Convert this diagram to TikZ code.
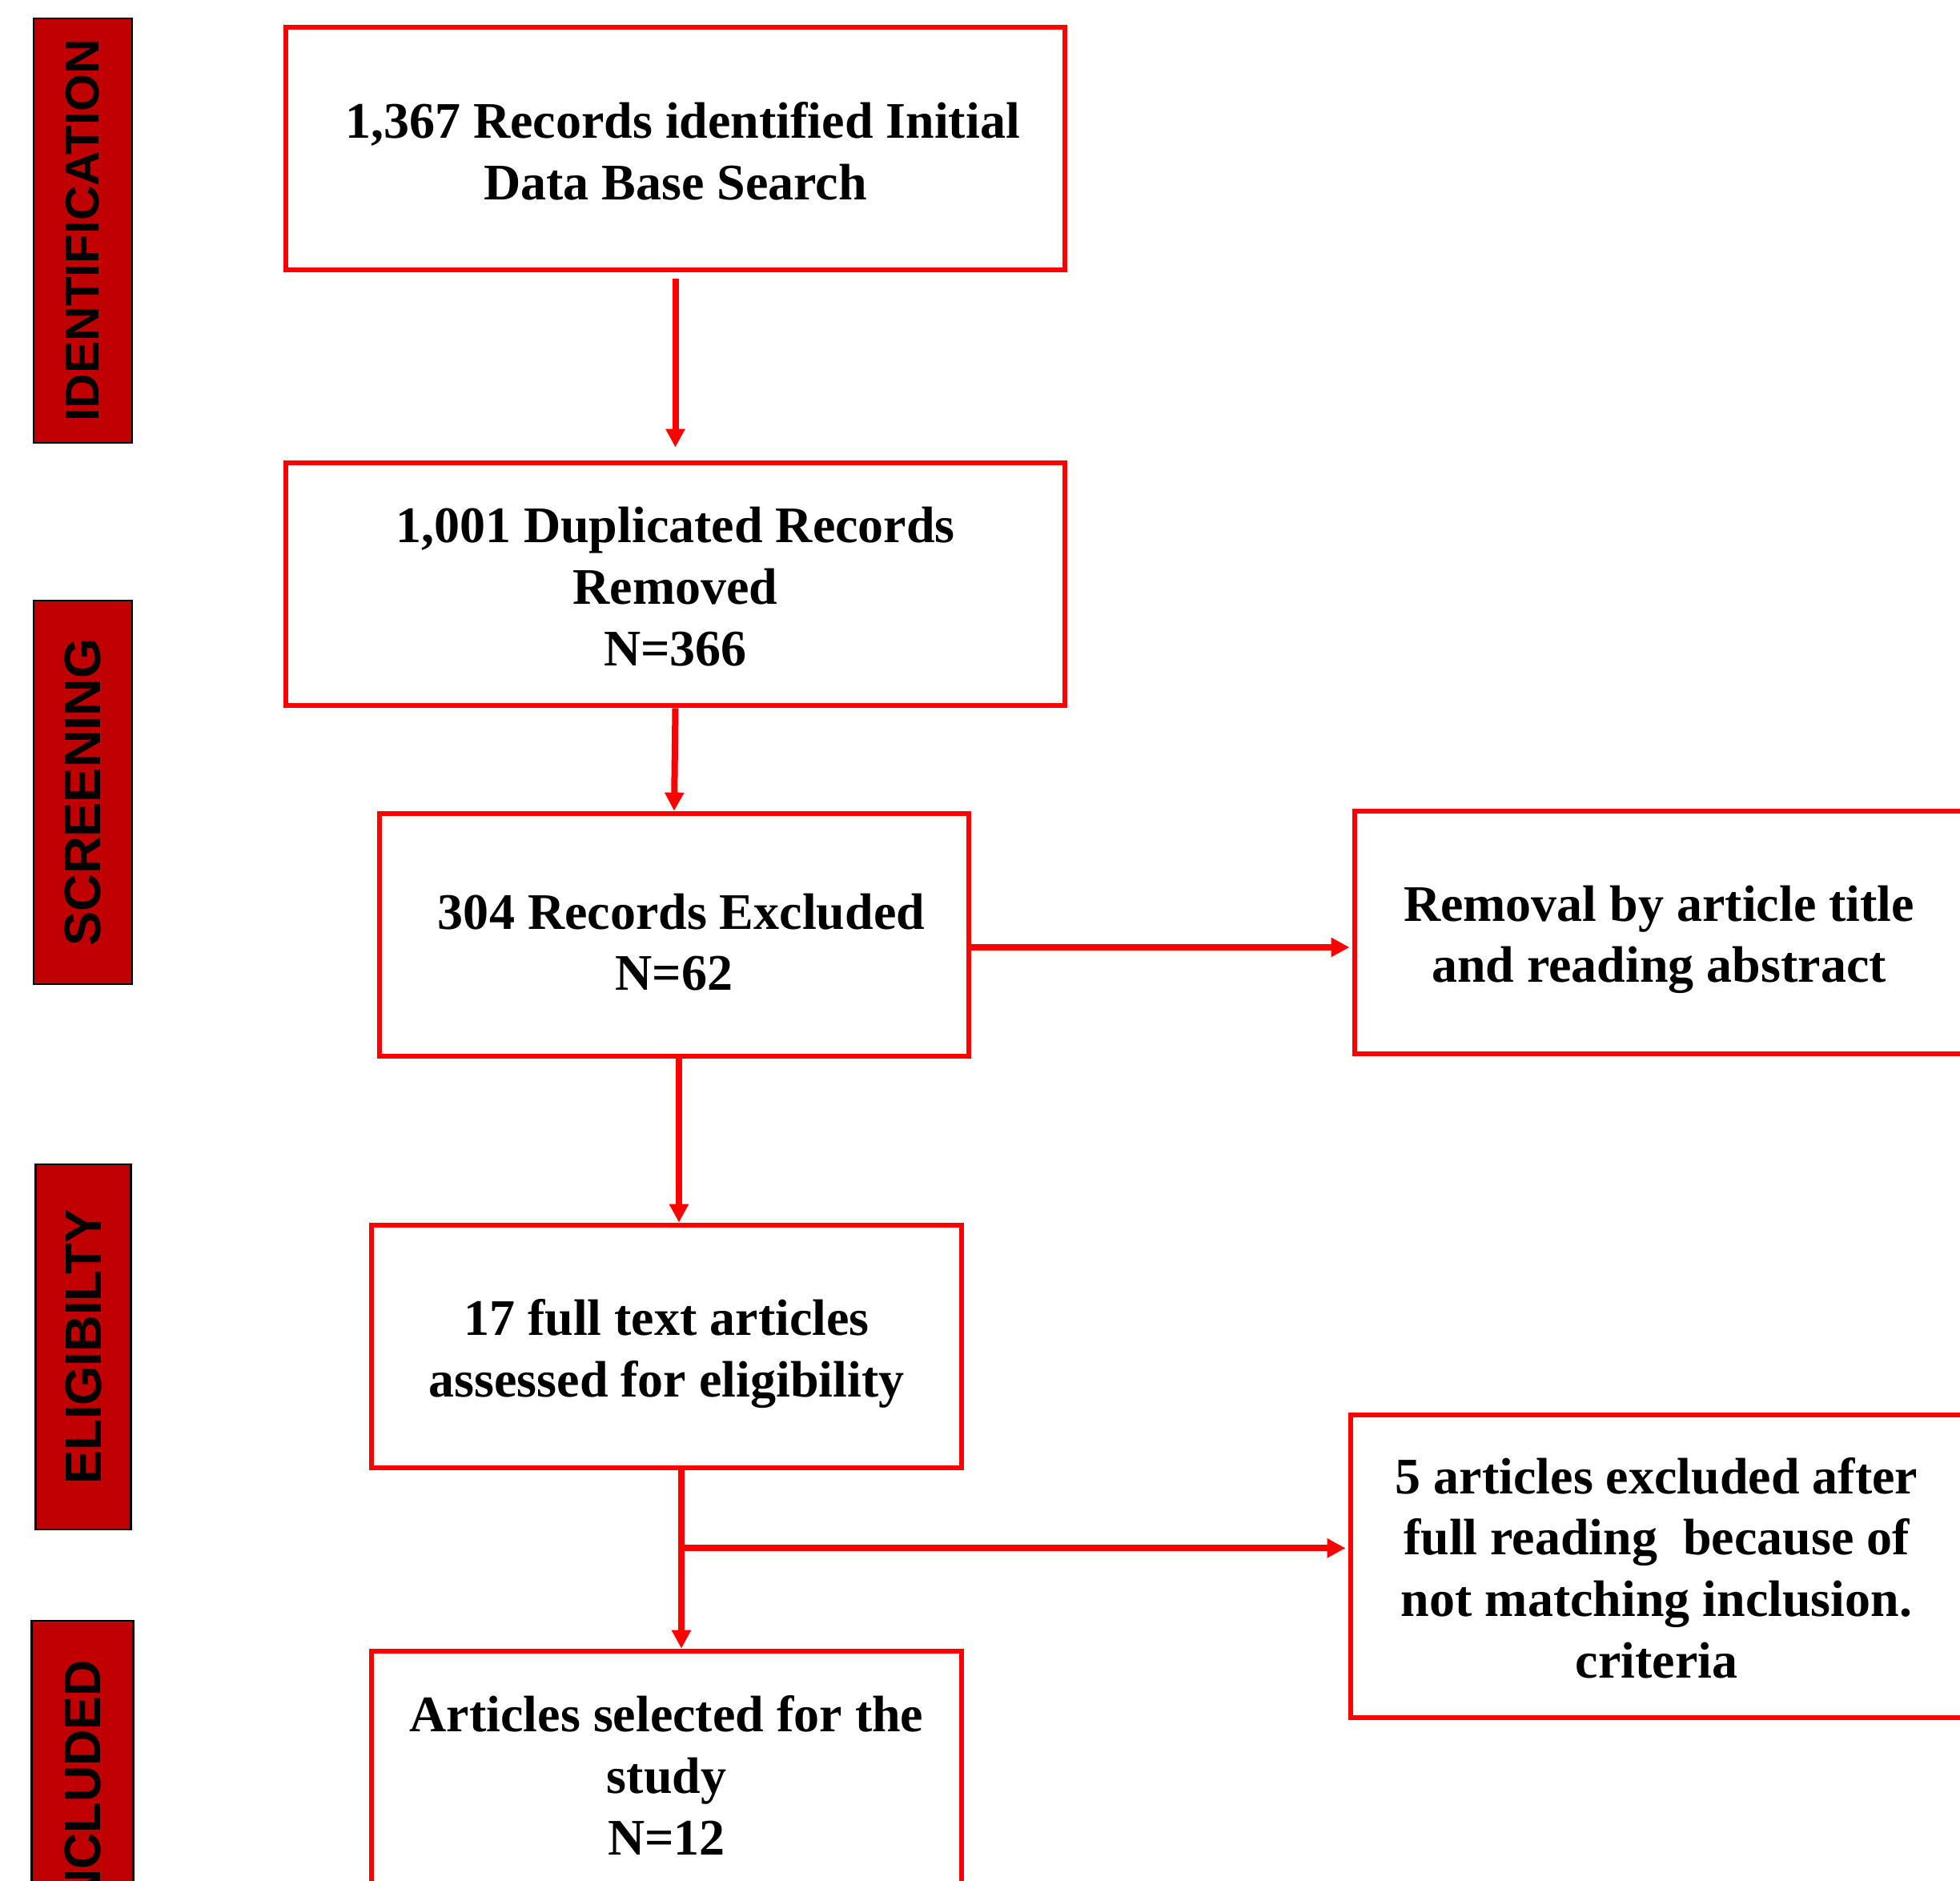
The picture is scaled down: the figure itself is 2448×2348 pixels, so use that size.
\documentclass[tikz,border=0pt]{standalone}
\usepackage{fontspec}
\usepackage{graphicx}
\setmainfont{Liberation Serif}
\setsansfont{Liberation Sans}
\usetikzlibrary{arrows.meta}
\definecolor{barred}{RGB}{192,0,0}
\definecolor{boxred}{RGB}{255,0,0}
\begin{document}
\begin{tikzpicture}[x=0.01cm,y=-0.01cm,
 box/.style={draw=boxred, line width=0.065cm, inner sep=0pt},
 boxtext/.style={align=center, inner sep=0pt,
   font=\fontsize{18.2pt}{21.8pt}\selectfont\bfseries},
 phase/.style={draw=black, line width=0.025cm, fill=barred, rotate=90, inner sep=0pt,
   font=\fontsize{18.2pt}{20pt}\selectfont\sffamily\bfseries, minimum height=1.23cm},
 arr/.style={draw=boxred, line width=0.08cm, -{Triangle[length=0.23cm,width=0.23cm]}}]
\clip (0,0) rectangle (2448,2348);
\fill[white] (0,0) rectangle (2448,2348);

% phase bars
\node[phase, minimum width=5.30cm, font=\fontsize{16.8pt}{20pt}\selectfont\sffamily\bfseries]
  (pid) at (103.5,288) {\scalebox{1.02}[1]{IDENTIFICATION}};
\node[phase, minimum width=4.79cm] (pscr) at (103.5,989.5) {\scalebox{1.01}[1]{SCREENING}};
\node[phase, minimum width=4.56cm, minimum height=1.19cm] (pel) at (104,1682) {\scalebox{0.99}[1]{ELIGIBILTY}};
\node[phase, minimum width=4.22cm, minimum height=1.27cm] (pinc) at (103,2235) {\scalebox{0.98}[1]{INCLUDED}};

% boxes
\node[box, minimum width=9.72cm, minimum height=3.03cm] (b1) at (843.5,185.5) {};
\node[box, minimum width=9.72cm, minimum height=3.03cm] (b2) at (843.5,729.5) {};
\node[box, minimum width=7.36cm, minimum height=3.03cm] (b3) at (842,1167.5) {};
\node[box, minimum width=7.60cm, minimum height=3.03cm] (b4) at (2072,1164.5) {};
\node[box, minimum width=7.37cm, minimum height=3.03cm] (b5) at (832.5,1681.5) {};
\node[box, minimum width=7.37cm, minimum height=3.10cm] (b6) at (832.5,2217) {};
\node[box, minimum width=7.64cm, minimum height=3.78cm] (b7) at (2069,1956) {};

% box texts
\node[boxtext] (t1) at ([yshift=-0.03cm]b1.center)
  {\hspace*{0.18cm}1,367 Records identified Initial\\Data Base Search};
\node[boxtext] (t2) at ([yshift=-0.03cm]b2.center)
  {1,001 Duplicated Records\\Removed\\N=366};
\node[boxtext] (t3) at ([yshift=-0.09cm]b3.center)
  {\hspace*{0.18cm}304 Records Excluded\\N=62};
\node[boxtext] (t4) at ([yshift=-0.09cm]b4.center)
  {Removal by article title\\and reading abstract};
\node[boxtext] (t5) at ([yshift=-0.09cm]b5.center)
  {17 full text articles\\assessed for eligibility};
\node[boxtext] (t6) at (b6.center)
  {Articles selected for the\\study\\N=12};
\node[boxtext] (t7) at ([yshift=-0.02cm]b7.center)
  {5 articles excluded after\\full reading~ because of\\not matching inclusion.\\criteria};

% connectors
\draw[arr, shorten <=0.08cm, shorten >=0.16cm] (b1.south) -- (b2.north);
\draw[arr] (b2.south) -- (b3.north);
\coordinate (r3) at ([yshift=-0.155cm]b3.east);
\draw[arr, shorten >=0.03cm] (r3) -- (r3 -| b4.west);
\coordinate (d3) at ([xshift=0.06cm]b3.south);
\draw[arr] (d3) -- (d3 |- b5.north);
\coordinate (d5) at ([xshift=0.185cm]b5.south);
\draw[arr] (d5) -- (d5 |- b6.north);
\path (d5) ++(0,97) coordinate (j5);
\draw[arr, shorten >=0.03cm] (j5) -- (j5 -| b7.west);
\end{tikzpicture}
\end{document}
